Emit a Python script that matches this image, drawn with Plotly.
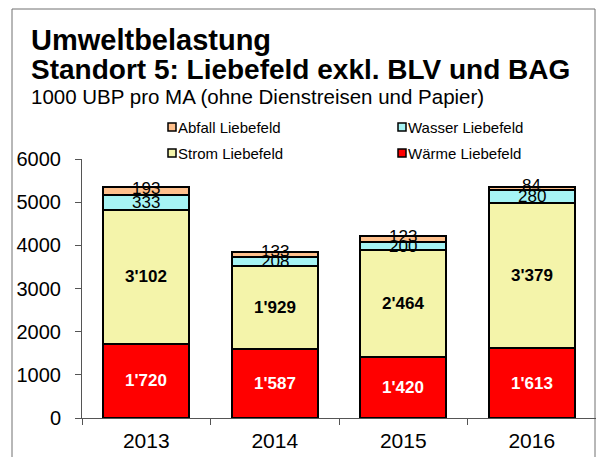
import plotly.graph_objects as go

years = ["2013", "2014", "2015", "2016"]
waerme = [1720, 1587, 1420, 1613]
strom = [3102, 1929, 2464, 3379]
wasser = [333, 208, 200, 280]
abfall = [193, 133, 123, 84]

series = [
    ("Wärme Liebefeld", waerme, "#FF0000"),
    ("Strom Liebefeld", strom, "#F4F4AA"),
    ("Wasser Liebefeld", wasser, "#A6F4F4"),
    ("Abfall Liebefeld", abfall, "#FFC08C"),
]

FONT = "Liberation Sans, Arial, sans-serif"
W, H = 596, 457
ML, MR, MT, MB = 82, 0, 159, 39
PW, PH = W - ML - MR, H - MT - MB


def px_x(x):
    return (x - ML) / PW


def px_y(y):
    return (H - MB - y) / PH


def fmt(v):
    return f"{v:,}".replace(",", "'")


fig = go.Figure()
for name, vals, color in series:
    fig.add_trace(go.Bar(
        x=years, y=vals, name=name,
        marker=dict(color=color, line=dict(color="black", width=2)),
        showlegend=False, hoverinfo="x+y+name",
    ))

# value labels centred in each stacked segment (x given as category index)
annotations = []
base = [0] * len(years)
for name, vals, color in series:
    for i, v in enumerate(vals):
        mid = base[i] + v / 2
        bold = name.startswith(("Wärme", "Strom"))
        annotations.append(dict(
            x=i, y=mid, xref="x", yref="y",
            text=f"<b>{fmt(v)}</b>" if bold else fmt(v),
            showarrow=False,
            yshift=3 if name.startswith("Abfall") else 0,
            font=dict(family=FONT, size=17,
                      color="white" if name.startswith("Wärme") else "black"),
        ))
        base[i] += v

# titles
titles = [
    ("<b>Umweltbelastung</b>", 29, 40.5),
    ("<b>Standort 5: Liebefeld exkl. BLV und BAG</b>", 28, 69.5),
    ("1000 UBP pro MA (ohne Dienstreisen und Papier)", 20.5, 96),
]
for text, size, y in titles:
    annotations.append(dict(
        x=px_x(29), y=px_y(y), xref="paper", yref="paper",
        xanchor="left", yanchor="middle", text=text, showarrow=False,
        font=dict(family=FONT, size=size, color="black"),
    ))

# legend (two columns)
legend_items = [
    ("Abfall Liebefeld", "#FFC08C", 168, 127),
    ("Wasser Liebefeld", "#A6F4F4", 398, 127),
    ("Strom Liebefeld", "#F4F4AA", 168, 153),
    ("Wärme Liebefeld", "#FF0000", 398, 153),
]
shapes = []
for text, color, lx, ly in legend_items:
    shapes.append(dict(
        type="rect", xref="paper", yref="paper",
        x0=px_x(lx), x1=px_x(lx + 8), y0=px_y(ly + 4), y1=px_y(ly - 4),
        fillcolor=color, line=dict(color="black", width=1.5),
    ))
    annotations.append(dict(
        x=px_x(lx + 8), y=px_y(ly), xref="paper", yref="paper",
        xanchor="left", yanchor="middle", text=text, showarrow=False,
        font=dict(family=FONT, size=15, color="black"),
    ))

# outer frame
shapes.append(dict(
    type="rect", xref="paper", yref="paper",
    x0=px_x(12), x1=px_x(595), y0=px_y(475), y1=px_y(9),
    line=dict(color="#707070", width=1), fillcolor="rgba(0,0,0,0)", layer="below",
))

fig.update_layout(
    barmode="stack", bargap=0.33,
    width=W, height=H,
    margin=dict(l=ML, r=MR, t=MT, b=MB, pad=0),
    paper_bgcolor="white", plot_bgcolor="white",
    font=dict(family=FONT, size=19, color="black"),
    annotations=annotations, shapes=shapes,
    xaxis=dict(
        type="category", tickson="boundaries", ticks="outside", ticklen=6,
        tickcolor="#555", showline=True, linecolor="#555", linewidth=1,
        showgrid=False, tickfont=dict(size=21), tickangle=0,
        range=[-0.5, 3.5], ticklabelstandoff=4,
    ),
    yaxis=dict(
        range=[0, 6000], tickvals=[0, 1000, 2000, 3000, 4000, 5000, 6000],
        ticks="outside", ticklen=6, tickcolor="#555", showline=True,
        linecolor="#555", linewidth=1, showgrid=False, zeroline=False,
        tickfont=dict(size=20), ticklabelstandoff=10,
    ),
)

fig.write_html("out.html")
